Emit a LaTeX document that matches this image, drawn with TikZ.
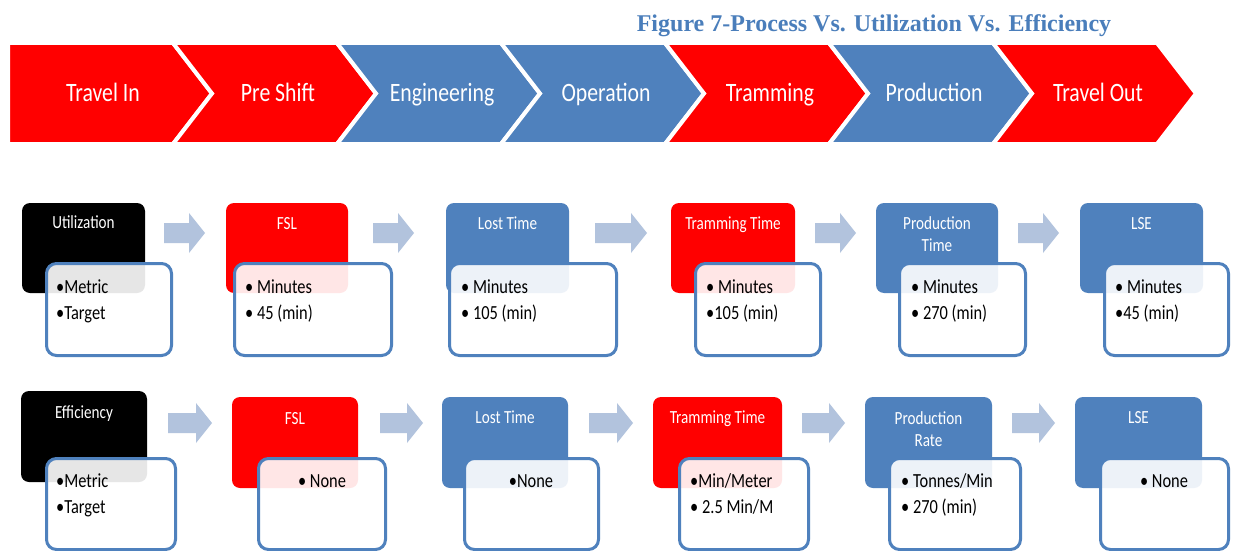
\documentclass[tikz,border=0pt]{standalone}
\usepackage{fontspec}
\newfontfamily\calib[FakeStretch=0.82]{Carlito}
\newfontfamily\timesb{Liberation Serif}
\definecolor{stepred}{HTML}{FF0000}
\definecolor{stepblue}{HTML}{4F81BD}
\definecolor{flowarrow}{HTML}{B2C3DD}
\definecolor{titleblue}{HTML}{4A7EBB}
\tikzset{
  chev/.style={draw=white, line width=4pt, line join=miter},
  chevtext/.style={text=white, font=\calib\fontsize{26.5}{30}\selectfont, inner sep=0pt, anchor=base},
  headbox/.style={rounded corners=8pt},
  headtext/.style={text=white, font=\calib\fontsize{18.5}{22}\selectfont, inner sep=0pt, anchor=base, align=center},
  detail/.style={draw=stepblue, line width=3pt, fill=white, fill opacity=0.9, rounded corners=10pt},
  item/.style={font=\calib\fontsize{20}{24}\selectfont, inner sep=0pt, anchor=base west},
  itemc/.style={font=\calib\fontsize{20}{24}\selectfont, inner sep=0pt, anchor=base},
  pics/flow/.style={code={\fill[flowarrow] (0,-10) -- (#1-16,-10) -- (#1-16,-20) -- (#1,0) -- (#1-16,20) -- (#1-16,10) -- (0,10) -- cycle;}},
}
\begin{document}
\begin{tikzpicture}[x=1pt, y=-1pt]
\useasboundingbox[fill=white] (0,0) rectangle (1237,551);

% caption
\node[font=\timesb\bfseries\fontsize{24}{28}\selectfont, text=titleblue, inner sep=0pt, anchor=base]
  (caption) at (874,31.5) {Figure 7-Process Vs. Utilization Vs. Efficiency};

% process chevrons
\path[chev, fill=stepred]  (8,43) -- (173,43) -- (212,93.5) -- (173,144) -- (8,144) -- cycle;
\path[chev, fill=stepred]  (173,43) -- (337,43) -- (376,93.5) -- (337,144) -- (173,144) -- (212,93.5) -- cycle;
\path[chev, fill=stepblue] (337,43) -- (501,43) -- (540,93.5) -- (501,144) -- (337,144) -- (376,93.5) -- cycle;
\path[chev, fill=stepblue] (501,43) -- (665,43) -- (704,93.5) -- (665,144) -- (501,144) -- (540,93.5) -- cycle;
\path[chev, fill=stepred]  (665,43) -- (829,43) -- (868,93.5) -- (829,144) -- (665,144) -- (704,93.5) -- cycle;
\path[chev, fill=stepblue] (829,43) -- (993,43) -- (1032,93.5) -- (993,144) -- (829,144) -- (868,93.5) -- cycle;
\path[chev, fill=stepred]  (993,43) -- (1157,43) -- (1196,93.5) -- (1157,144) -- (993,144) -- (1032,93.5) -- cycle;
\node[chevtext] (c1) at (103,101) {Travel In};
\node[chevtext] (c2) at (278,101) {Pre Shift};
\node[chevtext] (c3) at (442,101) {Engineering};
\node[chevtext] (c4) at (606,101) {Operation};
\node[chevtext] (c5) at (770,101) {Tramming};
\node[chevtext] (c6) at (934,101) {Production};
\node[chevtext] (c7) at (1098,101) {Travel Out};

% utilization row
\fill[headbox, black]     (22,203) rectangle (145,293);
\fill[headbox, stepred]   (226,203) rectangle (348,293);
\fill[headbox, stepblue]  (446,203) rectangle (569,293);
\fill[headbox, stepred]   (671,203) rectangle (795,293);
\fill[headbox, stepblue]  (876,203) rectangle (998,293);
\fill[headbox, stepblue]  (1080,203) rectangle (1203,293);
\path[detail] (46.5,263.5) rectangle (171.5,355.5);
\path[detail] (234.5,263.5) rectangle (391.5,355.5);
\path[detail] (449.5,263.5) rectangle (616.5,355.5);
\path[detail] (695.5,263.5) rectangle (820.5,355.5);
\path[detail] (899.5,263.5) rectangle (1025.5,355.5);
\path[detail] (1104.5,263.5) rectangle (1228.5,355.5);

\node[headtext] (u1) at (83.5,228) {Utilization};
\node[headtext] (u2) at (287,229) {FSL};
\node[headtext] (u3) at (507.5,229) {Lost Time};
\node[headtext] (u4) at (733,229) {Tramming Time};
% two-line titles: the base anchor sits on the last line
\node[headtext] (u5) at (937,251) {Production\\Time};
\node[headtext] (u6) at (1141.5,229) {LSE};

\node[item] (u1a) at (56,293) {•Metric};
\node[item] (u1b) at (56,319) {•Target};
\node[item] (u2a) at (245,293) {• Minutes};
\node[item] (u2b) at (245,319) {• 45 (min)};
\node[item] (u3a) at (461,293) {• Minutes};
\node[item] (u3b) at (461,319) {• 105 (min)};
\node[item] (u4a) at (706,293) {• Minutes};
\node[item] (u4b) at (706,319) {•105 (min)};
\node[item] (u5a) at (911,293) {• Minutes};
\node[item] (u5b) at (911,319) {• 270 (min)};
\node[item] (u6a) at (1115,293) {• Minutes};
\node[item] (u6b) at (1115,319) {•45 (min)};

\pic at (164,233) {flow=41};
\pic at (373,233) {flow=41};
\pic at (595,233) {flow=52};
\pic at (815,233) {flow=41};
\pic at (1018,233) {flow=41};

% efficiency row
\fill[headbox, black]     (21,391) rectangle (147,482);
\fill[headbox, stepred]   (232,397) rectangle (358,488);
\fill[headbox, stepblue]  (442,397) rectangle (568,488);
\fill[headbox, stepred]   (653,397) rectangle (782,488);
\fill[headbox, stepblue]  (865,397) rectangle (992,488);
\fill[headbox, stepblue]  (1075,397) rectangle (1202,488);
\path[detail] (46.5,458.5) rectangle (175.5,549.5);
\path[detail] (258.5,458.5) rectangle (385.5,549.5);
\path[detail] (464.5,458.5) rectangle (598.5,549.5);
\path[detail] (679.5,458.5) rectangle (808.5,549.5);
\path[detail] (889.5,458.5) rectangle (1020.5,549.5);
\path[detail] (1100.5,458.5) rectangle (1228.5,549.5);

\node[headtext] (e1) at (84,418) {Efficiency};
\node[headtext] (e2) at (295,424) {FSL};
\node[headtext] (e3) at (505,423) {Lost Time};
\node[headtext] (e4) at (717.5,423) {Tramming Time};
\node[headtext] (e5) at (928.5,446) {Production\\Rate};
\node[headtext] (e6) at (1138.5,423) {LSE};

\node[item] (e1a) at (56,487) {•Metric};
\node[item] (e1b) at (56,513) {•Target};
\node[itemc] (e2a) at (322,487) {• None};
\node[itemc] (e3a) at (531,487) {•None};
\node[item] (e4a) at (690,487) {•Min/Meter};
\node[item] (e4b) at (690,513) {• 2.5 Min/M};
\node[item] (e5a) at (901,487) {• Tonnes/Min};
\node[item] (e5b) at (901,513) {• 270 (min)};
\node[itemc] (e6a) at (1164,487) {• None};

\pic at (168,423) {flow=44};
\pic at (380,423) {flow=43};
\pic at (589,423) {flow=44};
\pic at (802,423) {flow=43};
\pic at (1012,423) {flow=43};
\end{tikzpicture}
\end{document}
